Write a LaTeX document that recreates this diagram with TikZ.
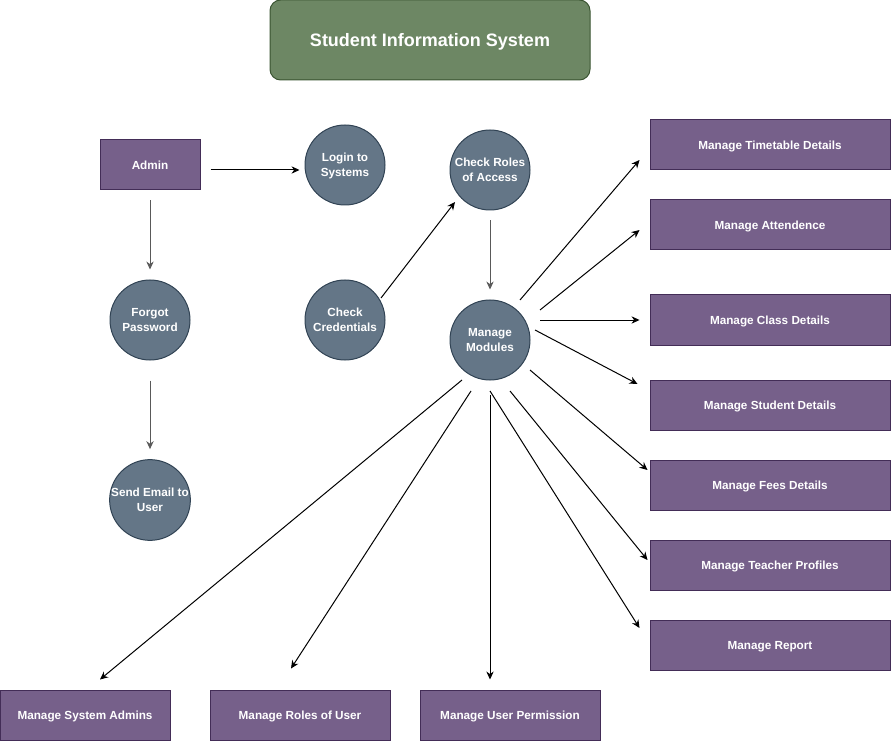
\documentclass[tikz,border=0pt]{standalone}
\usepackage{fontspec}
\setmainfont{Liberation Sans}
\usetikzlibrary{arrows.meta}

\definecolor{boxfill}{HTML}{76608A}
\definecolor{boxline}{HTML}{432D57}
\definecolor{procfill}{HTML}{647687}
\definecolor{procline}{HTML}{314354}
\definecolor{titlefill}{HTML}{6D8764}
\definecolor{titleline}{HTML}{3A5431}

\begin{document}
\begin{tikzpicture}[x=0.75pt,y=-0.75pt,
  lbl/.style={text=white,font=\bfseries\fontsize{8.8}{11.2}\selectfont,align=center,inner sep=0pt,text depth=0pt},
  entity/.style={lbl,draw=boxline,fill=boxfill,line width=0.75pt,minimum height=37.5pt},
  wide/.style={entity,minimum width=180pt},
  process/.style={lbl,circle,draw=procline,fill=procfill,line width=0.75pt,minimum size=60pt},
  arr/.style={-{Stealth[length=6pt,width=5.5pt]},line width=0.75pt,black}]

\useasboundingbox (0,0) rectangle (891,741);

% title banner
\node[draw=titleline,fill=titlefill,line width=0.75pt,rounded corners=8pt,
      minimum width=240pt,minimum height=60pt,text=white,text depth=0pt,
      font=\bfseries\fontsize{13.5}{16}\selectfont] (title) at (430,40) {Student Information System};

% actor and processes
\node[entity,minimum width=75pt] (admin) at (150,165) {Admin};
\node[process] (login)  at (345,165) {Login to\\Systems};
\node[process] (roles)  at (490,170) {Check Roles\\of Access};
\node[process] (forgot) at (150,320) {Forgot\\Password};
\node[process] (cred)   at (345,320) {Check\\Credentials};
\node[process] (mm)     at (490,340) {Manage\\Modules};
\node[process] (send)   at (150,500) {Send Email to\\User};

% module boxes on the right
\node[wide] (tt)  at (770,145) {Manage Timetable Details};
\node[wide] (att) at (770,225) {Manage Attendence};
\node[wide] (cls) at (770,320) {Manage Class Details};
\node[wide] (stu) at (770,405) {Manage Student Details};
\node[wide] (fee) at (770,485) {Manage Fees Details};
\node[wide] (tch) at (770,565) {Manage Teacher Profiles};
\node[wide] (rep) at (770,645) {Manage Report};

% module boxes along the bottom
\node[entity,minimum width=127.5pt] (sa) at (85,715)  {Manage System Admins};
\node[entity,minimum width=135pt]   (ru) at (300,715) {Manage Roles of User};
\node[entity,minimum width=135pt]   (up) at (510,715) {Manage User Permission};

% login flow
\draw[arr] ([shift={(10,5)}]admin.east)  -- ([shift={(-5,5)}]login.west);
\draw[arr,draw=black!65] ([shift={(0,10)}]admin.south) -- ([shift={(0,-10)}]forgot.north);
\draw[arr,draw=black!65] ([shift={(0,20)}]forgot.south) -- ([shift={(0,-10)}]send.north);
\draw[arr] ([shift={(36,-22)}]cred.center) -- ([shift={(-35,32)}]roles.center);
\draw[arr,draw=black!65] ([shift={(0,10)}]roles.south) -- ([shift={(0,-10)}]mm.north);

% fan-out from Manage Modules
\draw[arr] ([shift={(30,-40)}]mm.center) -- ([shift={(-10,15)}]tt.west);
\draw[arr] ([shift={(50,-30)}]mm.center) -- ([shift={(-10,5)}]att.west);
\draw[arr] ([shift={(50,-20)}]mm.center) -- ([shift={(-10,0)}]cls.west);
\draw[arr] ([shift={(45,-10)}]mm.center) -- ([shift={(-12,-21)}]stu.west);
\draw[arr] ([shift={(40,30)}]mm.center)  -- ([shift={(-2,-15)}]fee.west);
\draw[arr] ([shift={(20,51)}]mm.center)  -- ([shift={(-2,-5)}]tch.west);
\draw[arr] ([shift={(0,51)}]mm.center)   -- ([shift={(-10,-17)}]rep.west);
\draw[arr] ([shift={(-28,40)}]mm.center) -- ([shift={(15,-10)}]sa.north);
\draw[arr] ([shift={(-19,51)}]mm.center) -- ([shift={(-9,-21)}]ru.north);
\draw[arr] ([shift={(0,55)}]mm.center)   -- ([shift={(-20,-10)}]up.north);

\end{tikzpicture}
\end{document}
